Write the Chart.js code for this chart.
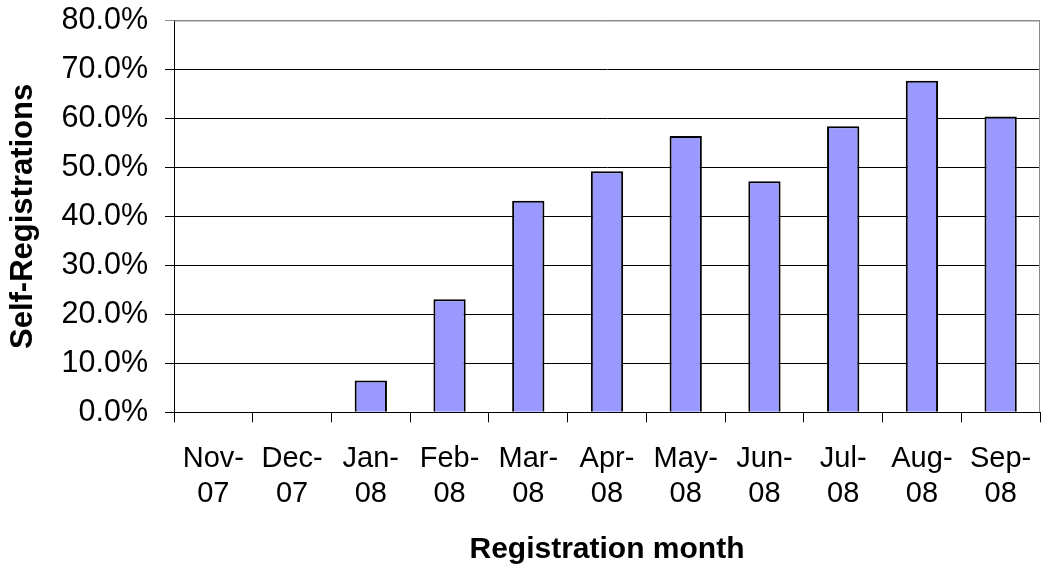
<!DOCTYPE html>
<html>
<head>
<meta charset="utf-8">
<script src="https://cdn.jsdelivr.net/npm/chart.js@4/dist/chart.umd.min.js"></script>
<style>
  html, body { margin: 0; padding: 0; background: #fff; }
  #wrap { width: 1044px; height: 572px; }
</style>
</head>
<body>
<div id="wrap"><canvas id="chart"></canvas></div>
<script>
const months = [
  ['Nov-', '07'], ['Dec-', '07'], ['Jan-', '08'], ['Feb-', '08'], ['Mar-', '08'], ['Apr-', '08'],
  ['May-', '08'], ['Jun-', '08'], ['Jul-', '08'], ['Aug-', '08'], ['Sep-', '08']
];
const selfRegPct = [0, 0, 6.5, 23.1, 43.2, 49.2, 56.4, 47.2, 58.4, 67.7, 60.4];

const font = "'Liberation Sans', Arial, sans-serif";

Chart.defaults.font.family = font;
Chart.defaults.color = '#000';

// grey frame on the top and right of the plot area
const plotFrame = {
  id: 'plotFrame',
  afterDraw(chart) {
    const { ctx, chartArea: a } = chart;
    ctx.save();
    ctx.strokeStyle = '#8c8c8c';
    ctx.lineWidth = 1;
    ctx.beginPath();
    ctx.moveTo(a.left, a.top + 0.5);
    ctx.lineTo(a.right - 0.5, a.top + 0.5);
    ctx.lineTo(a.right - 0.5, a.bottom);
    ctx.stroke();
    ctx.restore();
  }
};

new Chart(document.getElementById('chart'), {
  type: 'bar',
  data: {
    labels: months,
    datasets: [{
      data: selfRegPct,
      backgroundColor: '#9999ff',
      borderColor: '#000',
      borderWidth: 2,
      borderSkipped: 'bottom',
      barPercentage: 0.41,
      categoryPercentage: 1
    }]
  },
  options: {
    responsive: true,
    maintainAspectRatio: false,
    animation: false,
    layout: { padding: { top: 20.5, right: 4, left: 0, bottom: 4 } },
    plugins: {
      legend: { display: false },
      tooltip: { enabled: false }
    },
    scales: {
      x: {
        afterFit: (s) => {
          s.height = 155.7;
          s.paddingLeft = 0;
          s.paddingRight = 0;
        },
        grid: {
          display: true,
          drawOnChartArea: false,
          offset: true,
          color: '#000',
          tickLength: 10
        },
        border: { display: true, color: '#000' },
        ticks: {
          font: { size: 29 },
          lineHeight: 1.38,
          padding: 19,
          maxRotation: 0,
          autoSkip: false
        },
        title: {
          display: true,
          text: 'Registration month',
          font: { size: 30, weight: 'bold' },
          padding: { top: 0, bottom: 0 }
        }
      },
      y: {
        min: 0,
        max: 80,
        afterFit: (s) => {
          s.width = 174;
          s.paddingTop = 0;
          s.paddingBottom = 0;
        },
        grid: {
          color: (c) => c.tick && c.tick.value === 80 ? '#8c8c8c' : '#000',
          tickLength: 9
        },
        border: { display: true, color: '#000' },
        ticks: {
          stepSize: 10,
          font: { size: 30.5 },
          padding: 17,
          callback: (v) => v.toFixed(1) + '%'
        },
        title: {
          display: true,
          text: 'Self-Registrations',
          font: { size: 31, weight: 'bold' },
          padding: { top: 5, bottom: 0 }
        }
      }
    }
  },
  plugins: [plotFrame]
});
</script>
</body>
</html>
